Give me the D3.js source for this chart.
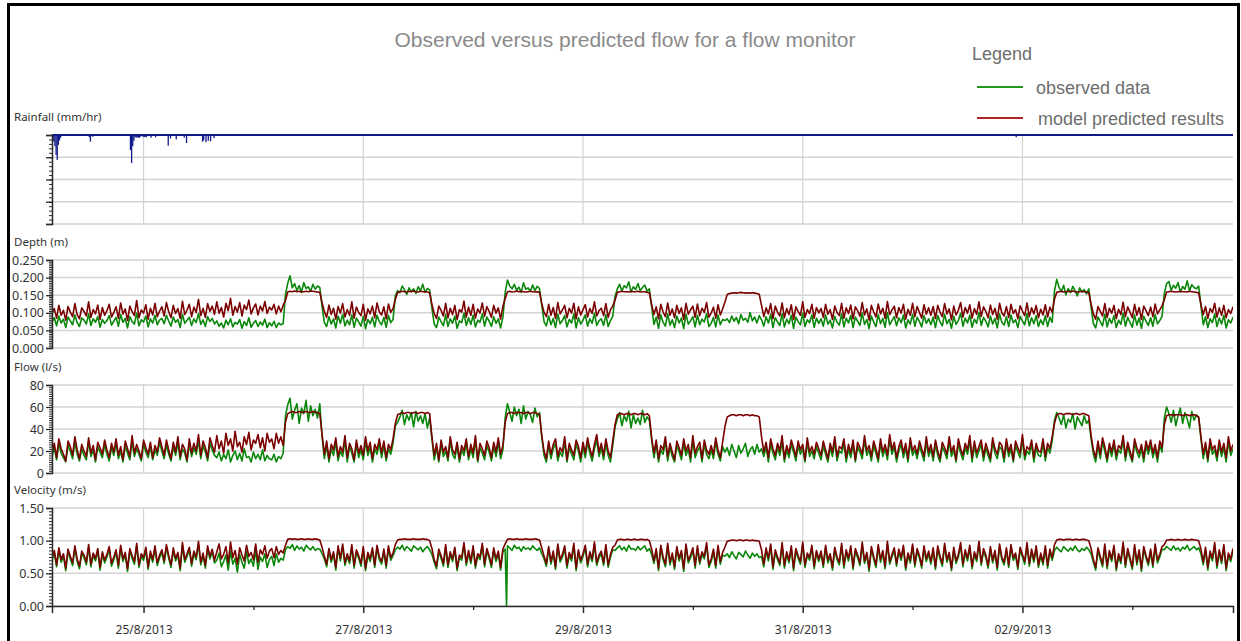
<!DOCTYPE html>
<html><head><meta charset="utf-8">
<script src="https://cdn.jsdelivr.net/npm/d3@7"></script>
<style>
html,body{margin:0;padding:0;background:#fff;}
svg{display:block;}
</style></head>
<body>
<svg id="chart" width="1241" height="641"></svg>
<script>
// ---------- DATA ----------
const titleText = "Observed versus predicted flow for a flow monitor";
const legendTitle = "Legend";
const seriesNames = ["observed data", "model predicted results"];
const panelLabels = ["Rainfall (mm/hr)", "Depth (m)", "Flow (l/s)", "Velocity (m/s)"];
const xTickLabels = ["25/8/2013", "27/8/2013", "29/8/2013", "31/8/2013", "02/9/2013"];
const xTickDates = [[2013,7,25],[2013,7,27],[2013,7,29],[2013,7,31],[2013,8,2]];
// 30-minute series starting 24/8/2013 04:00, ending 3/9/2013 22:00 (one row per day)
const seriesStart = [2013, 7, 24, 4];
const seriesEnd = [2013, 8, 3, 22];
const stepHours = 0.5;

// rainfall (15-min bins), hours after series start
const rainHours = [0,0.25,0.5,0.75,1,1.25,1.5,1.75,8,8.25,8.75,17,17.25,17.5,17.75,18,18.25,18.5,18.75,19,19.25,19.75,20,20.25,20.5,21.5,22.5,25.25,25.75,27,28.75,29.25,32.75,33,33.5,34,34.5,35.25,210.5];
const rainValues = [1.0,1.5,2.5,4.5,5.6,2.2,1.2,0.6,0.5,1.5,0.4,3.4,6.3,2.5,1.3,0.5,0.6,0.5,0.6,0.6,0.3,0.4,0.5,0.4,0.5,0.6,0.5,2.4,0.8,1.0,0.6,1.8,1.5,1.2,1.6,1.3,1.4,0.7,0.5];

const depthObserved = [
.074,.086,.063,.091,.071,.082,.058,.088,.077,.066,.094,.072,.061,.085,.079,.068,.097,.064,.083,.073,.089,.059,.081,.070,
.078,.092,.065,.076,.087,.062,.095,.073,.084,.057,.089,.075,.068,.099,.063,.080,.074,.091,.060,.083,.071,.093,.066,.079,
.084,.069,.093,.076,.062,.088,.073,.081,.058,.096,.070,.079,.087,.064,.083,.072,.098,.067,.080,.061,.089,.075,.084,.068,
.077,.062,.071,.057,.079,.066,.083,.060,.073,.068,.081,.056,.075,.064,.086,.059,.070,.078,.061,.074,.065,.082,.058,.072,
.063,.076,.058,.071,.066,.069,.152,.184,.205,.171,.183,.163,.177,.158,.186,.169,.174,.161,.181,.167,.176,.172,.118,
.072,.061,.089,.068,.083,.057,.091,.070,.096,.063,.079,.066,.094,.059,.085,.074,.062,.090,.055,.081,.069,.087,.060,.093,.075,
.066,.087,.059,.093,.072,.081,.148,.163,.157,.176,.166,.152,.171,.160,.168,.155,.174,.162,.181,.158,.169,.165,.113,
.068,.058,.088,.075,.063,.095,.061,.083,.070,.091,.056,.077,.072,.099,.064,.086,.067,.093,.060,.079,.073,.097,.062,.088,.076,
.061,.089,.070,.083,.057,.087,.158,.193,.176,.168,.181,.164,.173,.158,.185,.167,.171,.161,.179,.163,.175,.169,.121,
.074,.063,.091,.066,.084,.058,.096,.069,.078,.092,.060,.081,.071,.097,.057,.086,.068,.079,.094,.062,.083,.070,.099,.064,.077,
.083,.064,.095,.061,.078,.090,.147,.168,.181,.162,.177,.171,.188,.159,.174,.166,.183,.163,.172,.179,.161,.168,.119,
.067,.088,.056,.094,.073,.062,.097,.065,.080,.058,.091,.071,.085,.055,.096,.068,.077,.089,.060,.093,.066,.082,.074,.098,.061,
.070,.087,.060,.094,.066,.081,.078,.083,.072,.091,.076,.087,.069,.095,.079,.084,.073,.101,.077,.088,.071,.092,.080,
.062,.089,.071,.096,.058,.086,.074,.064,.097,.060,.082,.069,.093,.056,.088,.075,.066,.099,.061,.080,.072,.094,.059,.085,.070,
.083,.062,.094,.068,.079,.057,.090,.073,.065,.097,.060,.085,.071,.093,.058,.088,.076,.064,.099,.067,.081,.055,.091,.074,
.061,.095,.069,.084,.059,.101,.066,.078,.089,.063,.086,.072,.094,.057,.080,.068,.096,.062,.087,.075,.060,.092,.070,.083,
.066,.088,.058,.092,.074,.063,.096,.069,.081,.056,.090,.067,.078,.099,.062,.085,.071,.093,.059,.082,.070,.101,.064,.087,
.076,.060,.091,.068,.084,.057,.097,.073,.065,.089,.061,.094,.072,.080,.058,.090,.077,.066,.098,.063,.086,.069,.092,.061,
.080,.066,.092,.061,.087,.073,.162,.195,.172,.160,.178,.151,.169,.157,.175,.163,.148,.171,.159,.166,.154,.168,.117,
.069,.057,.088,.075,.063,.096,.060,.084,.070,.092,.058,.079,.067,.099,.062,.087,.073,.059,.094,.065,.085,.056,.090,.076,.064,
.086,.062,.095,.069,.078,.090,.155,.183,.189,.164,.178,.170,.186,.159,.175,.167,.191,.162,.180,.172,.168,.176,.121,
.066,.089,.058,.083,.072,.097,.061,.085,.068,.093,.057,.080,.071,.088];
const depthPredicted = [
.098,.112,.085,.121,.093,.107,.079,.118,.102,.089,.126,.095,.083,.114,.104,.091,.131,.087,.109,.097,.122,.081,.115,.093,
.106,.124,.088,.101,.117,.084,.128,.096,.111,.078,.119,.103,.092,.135,.086,.108,.099,.123,.082,.113,.094,.127,.089,.105,
.117,.091,.129,.103,.086,.121,.098,.112,.084,.133,.095,.108,.124,.089,.116,.101,.138,.092,.113,.087,.126,.104,.119,.096,
.131,.099,.115,.088,.127,.106,.141,.093,.118,.102,.129,.091,.122,.109,.136,.097,.114,.125,.094,.119,.105,.132,.098,.116,
.108,.124,.097,.119,.103,.121,.135,.159,.161,.160,.162,.160,.161,.159,.160,.161,.160,.162,.161,.160,.159,.158,.128,
.104,.087,.122,.095,.113,.082,.118,.099,.126,.088,.109,.093,.131,.085,.116,.101,.092,.124,.079,.111,.097,.119,.086,.128,.103,
.094,.117,.083,.125,.101,.112,.138,.158,.160,.161,.160,.159,.161,.160,.162,.160,.159,.161,.160,.160,.159,.157,.124,
.098,.084,.119,.107,.091,.127,.086,.113,.095,.121,.081,.109,.102,.133,.088,.116,.093,.124,.085,.111,.099,.128,.090,.118,.104,
.087,.121,.099,.114,.082,.118,.141,.160,.161,.159,.160,.162,.160,.161,.160,.159,.160,.161,.160,.159,.160,.158,.126,
.101,.089,.124,.093,.115,.084,.129,.097,.108,.121,.086,.113,.099,.127,.083,.117,.094,.109,.123,.088,.112,.098,.131,.091,.106,
.113,.092,.126,.087,.109,.119,.136,.158,.160,.161,.160,.160,.159,.161,.160,.160,.161,.159,.160,.160,.158,.157,.122,
.095,.117,.083,.124,.102,.089,.128,.093,.111,.086,.121,.098,.114,.081,.127,.096,.108,.119,.087,.125,.092,.113,.101,.129,.088,
.099,.116,.085,.123,.094,.111,.130,.152,.155,.156,.157,.156,.157,.158,.157,.156,.157,.156,.157,.156,.155,.153,.121,
.089,.114,.097,.126,.083,.119,.102,.091,.128,.086,.112,.095,.123,.081,.117,.104,.093,.131,.087,.109,.098,.124,.085,.115,.100,
.112,.087,.124,.096,.109,.081,.119,.101,.092,.127,.085,.114,.098,.122,.083,.117,.106,.090,.129,.094,.111,.079,.121,.103,
.088,.125,.097,.113,.084,.132,.095,.108,.119,.086,.115,.099,.124,.082,.110,.093,.127,.089,.118,.101,.085,.123,.096,.114,
.093,.118,.084,.121,.102,.089,.126,.097,.111,.080,.119,.094,.107,.129,.088,.115,.099,.123,.085,.112,.096,.131,.090,.117,
.104,.086,.122,.095,.113,.082,.127,.100,.091,.118,.087,.124,.098,.109,.083,.120,.105,.092,.128,.089,.114,.097,.121,.086,
.110,.094,.123,.088,.116,.101,.139,.158,.160,.161,.159,.160,.161,.160,.162,.160,.159,.160,.161,.160,.159,.157,.125,
.097,.082,.118,.104,.091,.126,.087,.113,.099,.121,.084,.110,.095,.130,.089,.117,.102,.086,.124,.093,.115,.081,.119,.106,.092,
.116,.089,.125,.097,.108,.120,.137,.159,.160,.161,.160,.159,.160,.161,.160,.160,.159,.161,.160,.159,.158,.157,.123,
.095,.118,.084,.112,.101,.127,.088,.114,.093,.121,.086,.109,.098,.117];

const flowObserved = [
15,23,12,27,18,14,10,25,20,13,28,17,11,22,16,12,29,15,21,10,24,19,14,26,
17,11,23,16,27,13,20,10,25,18,12,29,15,22,17,11,26,19,14,24,12,21,16,28,
20,13,26,17,11,24,16,28,12,22,18,10,27,15,23,17,30,13,25,19,11,27,21,16,
14,19,11,17,13,21,10,16,20,12,18,11,22,14,15,10,19,13,17,12,21,11,16,13,
12,17,10,15,13,18,52,62,68,49,57,63,45,59,54,66,47,61,52,58,50,63,33,
13,25,10,22,16,28,11,20,15,30,10,24,18,10,26,14,21,12,29,16,23,10,22,17,27,
14,25,11,22,17,27,43,46,51,57,44,53,48,55,42,56,47,52,45,54,41,50,31,
12,23,10,26,15,20,11,29,17,13,24,10,21,16,27,12,22,14,30,10,23,18,12,25,19,
11,24,15,28,13,21,50,63,55,47,60,52,58,45,61,49,56,53,46,59,51,55,32,
16,10,25,13,22,27,11,19,15,29,10,23,17,12,26,20,10,24,14,28,18,11,22,30,15,
23,12,27,16,10,25,42,49,55,43,52,47,56,41,53,45,50,44,57,46,51,48,30,
14,26,10,21,17,29,11,23,15,10,25,19,12,27,16,22,10,30,14,20,24,10,26,17,13,
21,13,28,17,11,24,19,23,16,26,20,14,25,18,22,27,15,21,24,17,26,19,22,
15,24,10,27,18,12,23,16,29,10,21,14,26,19,11,25,17,22,10,28,15,20,13,24,18,
12,25,17,10,23,15,29,11,20,18,27,10,22,14,26,10,24,19,13,30,16,21,11,25,
18,10,27,15,22,12,31,17,24,10,20,26,14,23,10,28,16,21,13,25,18,11,29,15,
22,11,26,16,10,24,19,13,29,15,21,10,27,18,12,23,17,30,10,25,14,20,26,11,
23,16,10,28,18,13,24,21,10,27,15,22,10,25,19,14,31,12,20,17,26,10,23,16,
15,27,11,23,18,29,48,55,50,44,53,41,49,46,54,40,51,47,43,52,45,48,31,
17,10,25,13,28,20,10,23,15,26,12,21,18,30,11,24,16,10,27,19,14,22,10,25,17,
26,14,22,10,25,19,50,60,54,46,57,43,52,59,45,55,49,41,56,48,53,50,31,
13,24,10,27,17,21,11,26,15,23,10,29,16,22];
const flowPredicted = [
19,27,14,31,22,17,11,29,24,16,33,21,13,26,20,15,32,18,25,12,28,23,17,30,
21,14,27,19,31,16,24,12,29,22,15,34,18,26,20,13,30,23,17,28,14,25,19,32,
24,16,30,21,13,28,19,33,15,26,22,12,31,18,27,20,35,16,29,23,14,32,25,19,
34,22,29,18,36,25,31,20,38,24,28,19,33,26,37,21,30,27,35,23,32,20,36,28,
31,22,36,27,33,25,46,54,55,56,55,55,56,55,55,56,55,55,56,55,55,54,35,
17,29,13,26,21,32,15,24,19,34,14,27,22,12,30,18,25,16,33,20,28,13,26,21,31,
18,29,14,26,21,31,45,53,54,55,54,55,55,54,55,55,54,55,55,54,55,54,33,
16,27,12,30,19,24,14,33,21,17,28,13,25,20,31,15,26,18,34,12,27,22,16,29,23,
14,28,19,32,17,25,46,54,55,55,54,55,55,55,54,55,55,54,55,55,54,53,34,
20,13,29,17,26,31,15,23,19,33,12,27,21,16,30,24,14,28,18,32,22,15,26,35,19,
27,16,31,20,14,29,44,53,54,54,53,54,54,53,54,54,53,54,54,53,54,52,32,
18,30,13,25,21,33,15,27,19,12,29,23,16,31,20,26,14,34,18,24,28,13,30,21,17,
25,17,32,21,14,28,42,51,52,53,53,52,53,53,52,53,53,52,53,52,52,51,33,
19,28,14,31,22,16,27,20,34,13,25,18,30,23,15,29,21,26,12,32,19,24,17,28,22,
16,29,21,13,27,19,33,15,24,22,31,14,26,18,30,12,28,23,17,34,20,25,15,29,
22,13,31,19,26,16,35,21,28,14,24,30,18,27,13,32,20,25,17,29,22,15,33,19,
26,15,30,20,13,28,23,17,33,19,25,12,31,22,16,27,21,34,14,29,18,24,30,15,
27,20,13,32,22,17,28,25,14,31,19,26,12,29,23,18,35,16,24,21,30,14,27,20,
19,31,15,27,22,33,45,53,54,54,53,54,54,54,53,54,54,53,54,54,53,52,34,
21,14,29,17,32,24,13,27,19,30,16,25,22,34,15,28,20,12,31,23,18,26,14,29,21,
30,18,26,14,29,23,44,52,53,53,52,53,53,53,52,53,53,52,53,53,52,51,33,
17,28,13,31,21,25,15,30,19,27,14,33,20,26];

const velocityObserved = [
.70,.81,.60,.85,.67,.76,.54,.83,.72,.62,.88,.68,.57,.80,.74,.63,.90,.60,.77,.69,.84,.55,.79,.66,
.75,.87,.61,.71,.82,.58,.89,.68,.78,.53,.84,.73,.64,.92,.59,.76,.70,.86,.56,.80,.67,.88,.62,.74,
.82,.65,.90,.73,.59,.85,.69,.78,.54,.93,.67,.76,.86,.61,.80,.71,.95,.63,.77,.58,.88,.72,.83,.66,
.70,.81,.60,.68,.78,.55,.84,.64,.73,.52,.79,.67,.58,.83,.65,.72,.61,.86,.56,.75,.68,.80,.59,.71,
.76,.62,.80,.67,.73,.70,.86,.91,.88,.94,.85,.92,.87,.90,.84,.93,.89,.86,.91,.85,.88,.87,.80,
.72,.60,.84,.67,.79,.55,.88,.69,.91,.62,.76,.65,.90,.58,.82,.73,.61,.87,.54,.78,.68,.85,.59,.89,.71,
.64,.83,.58,.88,.70,.77,.86,.90,.87,.93,.85,.91,.88,.84,.92,.89,.86,.90,.83,.88,.91,.86,.79,
.67,.57,.83,.73,.61,.90,.59,.79,.68,.86,.54,.74,.70,.93,.62,.81,.65,.88,.58,.76,.71,.92,.60,.84,.73,
.59,.85,.68,.80,.55,.83,.87,.92,.89,.85,.93,.88,.90,.84,.91,.87,.89,.86,.92,.88,.85,.89,.80,
.72,.61,.87,.64,.80,.56,.91,.67,.75,.88,.58,.78,.69,.92,.54,.82,.66,.76,.89,.60,.79,.68,.94,.62,.74,
.80,.62,.90,.59,.75,.86,.85,.89,.92,.86,.90,.84,.93,.87,.88,.85,.91,.86,.89,.92,.84,.88,.79,
.65,.84,.54,.89,.71,.60,.92,.63,.77,.56,.87,.69,.81,.53,.91,.66,.74,.85,.58,.88,.64,.79,.72,.93,.59,
.68,.83,.58,.89,.64,.78,.76,.80,.74,.83,.77,.72,.82,.79,.75,.84,.78,.73,.81,.76,.80,.74,.76,
.60,.85,.69,.91,.56,.82,.71,.62,.93,.58,.79,.66,.88,.54,.84,.73,.64,.94,.59,.77,.70,.89,.57,.81,.68,
.80,.59,.89,.66,.76,.55,.86,.71,.63,.92,.58,.82,.69,.88,.56,.84,.74,.62,.94,.65,.78,.53,.87,.72,
.59,.90,.67,.81,.57,.95,.64,.75,.85,.61,.83,.70,.89,.55,.77,.66,.91,.60,.84,.73,.58,.88,.68,.80,
.64,.85,.56,.88,.72,.61,.92,.67,.78,.54,.86,.65,.75,.93,.60,.82,.69,.89,.57,.79,.68,.95,.62,.84,
.74,.58,.87,.66,.81,.55,.91,.71,.63,.85,.59,.90,.70,.77,.56,.86,.75,.64,.93,.61,.83,.67,.88,.59,
.77,.63,.88,.58,.83,.70,.85,.90,.86,.83,.91,.87,.84,.89,.85,.92,.86,.83,.88,.85,.90,.86,.80,
.67,.55,.85,.72,.60,.91,.57,.81,.68,.89,.54,.76,.65,.94,.59,.84,.70,.56,.90,.63,.82,.53,.87,.73,.62,
.83,.59,.91,.66,.75,.87,.86,.91,.88,.85,.92,.86,.89,.84,.90,.87,.93,.85,.88,.91,.86,.89,.80,
.63,.86,.55,.80,.69,.93,.58,.82,.65,.90,.54,.77,.68,.84];
// brief sensor dropout in observed velocity (hours after series start)
const velocityDropoutHours = [99.3];
const velocityDropoutValues = [0];
const velocityPredicted = [
.74,.85,.63,.89,.71,.80,.58,.87,.76,.66,.92,.72,.61,.84,.78,.67,.94,.64,.81,.73,.88,.59,.83,.70,
.79,.91,.65,.75,.86,.62,.93,.72,.82,.57,.88,.77,.68,.96,.63,.80,.74,.90,.60,.84,.71,.92,.66,.78,
.86,.69,.94,.77,.63,.89,.73,.82,.58,.97,.71,.80,.90,.65,.84,.75,.99,.67,.81,.62,.92,.76,.87,.70,
.83,.95,.72,.79,.91,.66,.98,.74,.85,.64,.89,.78,.69,.93,.76,.82,.71,.95,.67,.86,.79,.92,.73,.84,
.88,.74,.91,.79,.85,.81,.93,1.02,1.03,1.02,1.03,1.02,1.02,1.03,1.02,1.02,1.03,1.02,1.02,1.03,1.02,1.01,.90,
.76,.64,.88,.71,.83,.59,.92,.73,.95,.66,.80,.69,.94,.62,.86,.77,.65,.91,.58,.82,.72,.89,.63,.93,.75,
.68,.87,.62,.92,.74,.81,.94,1.01,1.02,1.02,1.03,1.02,1.02,1.02,1.03,1.02,1.02,1.02,1.03,1.02,1.02,1.00,.88,
.71,.61,.87,.77,.65,.94,.63,.83,.72,.90,.58,.78,.74,.97,.66,.85,.69,.92,.62,.80,.75,.96,.64,.88,.77,
.63,.89,.72,.84,.59,.87,.95,1.02,1.03,1.02,1.02,1.03,1.02,1.02,1.02,1.03,1.02,1.02,1.02,1.03,1.02,1.01,.89,
.76,.65,.91,.68,.84,.60,.95,.71,.79,.92,.62,.82,.73,.96,.58,.86,.70,.80,.93,.64,.83,.72,.98,.66,.78,
.84,.66,.94,.63,.79,.90,.93,1.01,1.02,1.02,1.01,1.02,1.02,1.01,1.02,1.02,1.01,1.02,1.02,1.01,1.02,1.00,.87,
.69,.88,.58,.93,.75,.64,.96,.67,.81,.60,.91,.73,.85,.57,.95,.70,.78,.89,.62,.92,.68,.83,.76,.97,.63,
.72,.87,.62,.93,.68,.82,.90,.99,1.00,1.01,1.01,1.00,1.01,1.01,1.00,1.01,1.01,1.00,1.01,1.00,1.00,.99,.86,
.64,.89,.73,.95,.60,.86,.75,.66,.97,.62,.83,.70,.92,.58,.88,.77,.68,.98,.63,.81,.74,.93,.61,.85,.72,
.84,.63,.93,.70,.80,.59,.90,.75,.67,.96,.62,.86,.73,.92,.60,.88,.78,.66,.98,.69,.82,.57,.91,.76,
.63,.94,.71,.85,.61,.99,.68,.79,.89,.65,.87,.74,.93,.59,.81,.70,.95,.64,.88,.77,.62,.92,.72,.84,
.68,.89,.60,.92,.76,.65,.96,.71,.82,.58,.90,.69,.79,.97,.64,.86,.73,.93,.61,.83,.72,.99,.66,.88,
.78,.62,.91,.70,.85,.59,.95,.75,.67,.89,.63,.94,.74,.81,.60,.90,.79,.68,.97,.65,.87,.71,.92,.63,
.81,.67,.92,.62,.87,.74,.94,1.01,1.02,1.02,1.01,1.02,1.02,1.02,1.01,1.02,1.02,1.01,1.02,1.02,1.01,1.00,.88,
.71,.59,.89,.76,.64,.95,.61,.85,.72,.93,.58,.80,.69,.98,.63,.88,.74,.60,.94,.67,.86,.57,.91,.77,.66,
.87,.63,.95,.70,.79,.91,.94,1.01,1.01,1.02,1.01,1.01,1.02,1.01,1.01,1.02,1.01,1.01,1.02,1.01,1.01,1.00,.87,
.67,.90,.59,.84,.73,.97,.62,.86,.69,.94,.58,.81,.72,.88];

const depthTicks = [0, 0.05, 0.10, 0.15, 0.20, 0.25];
const flowTicks = [0, 20, 40, 60, 80];
const velocityTicks = [0, 0.5, 1.0, 1.5];
const rainTicks = [0, 5, 10, 15, 20];

// ---------- DRAW ----------
const svg = d3.select("#chart");
const HOUR = 3600e3;
const t0 = new Date(...seriesStart);
const t1 = new Date(...seriesEnd);
const L = 52, R = 1233;
const x = d3.scaleTime().domain([t0, t1]).range([L, R]);
const hoursToDate = h => new Date(+t0 + h * HOUR);

const GREEN = "#0a870a", RED = "#7a0000", GRID = "#d3d3d3", AXIS = "#2a2a2a", NAVY = "#101a8a";
const labelFont = "'Noto Sans', 'Open Sans', sans-serif";
const sansFont = "'Liberation Sans', Arial, sans-serif";

// frame
svg.append("rect").attr("x", 8.5).attr("y", 4.5).attr("width", 1230).attr("height", 660)
  .attr("fill", "none").attr("stroke", "#000").attr("stroke-width", 3);

// title
svg.append("text").attr("x", 625).attr("y", 47).attr("text-anchor", "middle")
  .attr("font-family", sansFont).attr("font-size", 21).attr("fill", "#8a8a8a").text(titleText);

// legend
svg.append("text").attr("x", 972).attr("y", 60).attr("font-family", sansFont)
  .attr("font-size", 18).attr("fill", "#6e6e6e").text(legendTitle);
const legColors = ["#1f9a1f", "#b22525"];
const legY = [87, 118];
seriesNames.forEach((n, i) => {
  svg.append("line").attr("x1", 977).attr("x2", 1023).attr("y1", legY[i]).attr("y2", legY[i])
    .attr("stroke", legColors[i]).attr("stroke-width", 2);
  svg.append("text").attr("x", 1036 + i * 2).attr("y", legY[i] + 7).attr("font-family", sansFont)
    .attr("font-size", 18).attr("fill", "#6e6e6e").text(n);
});

const xMajor = xTickDates.map(d => new Date(d[0], d[1], d[2]));
const xMinor = d3.timeDay.range(d3.timeDay.ceil(t0), t1).filter(d => !xMajor.some(m => +m === +d));

// panels
const panels = [
  {label: panelLabels[0], top: 135, bottom: 224, domain: [0, 20], ticks: rainTicks, minor: 1, fmt: null, inverted: true},
  {label: panelLabels[1], top: 260, bottom: 348, domain: [0, 0.25], ticks: depthTicks, minor: 0.005, fmt: d3.format(".3f"),
    obs: depthObserved, pred: depthPredicted},
  {label: panelLabels[2], top: 385, bottom: 473, domain: [0, 80], ticks: flowTicks, minor: 2, fmt: d3.format("d"),
    obs: flowObserved, pred: flowPredicted},
  {label: panelLabels[3], top: 508, bottom: 606, domain: [0, 1.5], ticks: velocityTicks, minor: 0.05, fmt: d3.format(".2f"),
    obs: velocityObserved, pred: velocityPredicted, drop: true}
];

panels.forEach(p => {
  const y = d3.scaleLinear().domain(p.domain)
    .range(p.inverted ? [p.top, p.bottom] : [p.bottom, p.top]);
  const g = svg.append("g");
  g.append("text").attr("x", 14).attr("y", p.top - 14).attr("font-family", labelFont)
    .attr("font-size", 11.5).attr("fill", "#333").text(p.label);
  g.selectAll(".hg").data(p.ticks).join("line")
    .attr("x1", L).attr("x2", R).attr("y1", d => y(d)).attr("y2", d => y(d))
    .attr("stroke", GRID).attr("stroke-width", 1.5);
  g.selectAll(".vg").data(xMajor).join("line")
    .attr("x1", d => x(d)).attr("x2", d => x(d)).attr("y1", p.top).attr("y2", p.bottom)
    .attr("stroke", GRID).attr("stroke-width", 1.2);

  const clipId = "clip" + p.top;
  svg.append("clipPath").attr("id", clipId).append("rect")
    .attr("x", L).attr("y", p.top - 2).attr("width", R - L).attr("height", p.bottom - p.top + 2);
  const dg = g.append("g").attr("clip-path", `url(#${clipId})`);
  if (p.inverted) {
    const n = Math.min(rainHours.length, rainValues.length);
    const bars = d3.range(n).map(i => ({t: hoursToDate(rainHours[i]), t2: hoursToDate(rainHours[i] + 0.25), v: rainValues[i]}));
    dg.selectAll("rect.rain").data(bars).join("rect")
      .attr("x", d => x(d.t)).attr("width", d => Math.max(1.3, x(d.t2) - x(d.t)))
      .attr("y", y(0)).attr("height", d => y(d.v) - y(0)).attr("fill", NAVY);
    g.append("line").attr("x1", L).attr("x2", R).attr("y1", y(0)).attr("y2", y(0))
      .attr("stroke", NAVY).attr("stroke-width", 2);
  } else {
    const line = d3.line().x(d => x(d[0])).y(d => y(d[1]));
    let obs = p.obs.map((v, i) => [hoursToDate(i * stepHours), v]);
    if (p.drop) {
      velocityDropoutHours.forEach((h, k) => obs.push([hoursToDate(h), velocityDropoutValues[k]]));
      obs.sort((a, b) => a[0] - b[0]);
    }
    const pred = p.pred.map((v, i) => [hoursToDate(i * stepHours), v]);
    dg.append("path").datum(obs).attr("d", line).attr("fill", "none")
      .attr("stroke", GREEN).attr("stroke-width", 1.6).attr("stroke-linejoin", "round");
    dg.append("path").datum(pred).attr("d", line).attr("fill", "none")
      .attr("stroke", RED).attr("stroke-width", 1.6).attr("stroke-linejoin", "round");
  }

  const minorVals = d3.range(p.domain[0], p.domain[1] + p.minor / 2, p.minor);
  const minorAxis = d3.axisLeft(y).tickValues(minorVals).tickSize(3).tickFormat("");
  const ma = g.append("g").attr("transform", `translate(${L},0)`).call(minorAxis);
  ma.select(".domain").remove();
  ma.selectAll("line").attr("stroke", AXIS);
  const majorAxis = d3.axisLeft(y).tickValues(p.ticks).tickSize(6).tickPadding(2)
    .tickFormat(p.fmt ? p.fmt : "");
  const aa = g.append("g").attr("transform", `translate(${L},0)`).call(majorAxis);
  aa.select(".domain").attr("stroke", AXIS).attr("stroke-width", 1.5);
  aa.selectAll("line").attr("stroke", AXIS).attr("stroke-width", 1.3);
  aa.selectAll("text").attr("font-family", labelFont).attr("font-size", 12.5).attr("fill", "#333");
});

// bottom time axis
const yBottom = 606;
const xMinorAxis = d3.axisBottom(x).tickValues(xMinor).tickSize(4).tickFormat("");
const xm = svg.append("g").attr("transform", `translate(0,${yBottom})`).call(xMinorAxis);
xm.select(".domain").remove();
xm.selectAll("line").attr("stroke", AXIS).attr("stroke-width", 1.3);
const xAxis = d3.axisBottom(x).tickValues(xMajor).tickSize(7).tickPadding(12)
  .tickFormat((d, i) => xTickLabels[i]);
const xa = svg.append("g").attr("transform", `translate(0,${yBottom})`).call(xAxis);
xa.select(".domain").attr("stroke", AXIS).attr("stroke-width", 1.5);
xa.selectAll("line").attr("stroke", AXIS).attr("stroke-width", 1.5);
xa.selectAll("text").attr("font-family", labelFont).attr("font-size", 12).attr("fill", "#333");
</script>
</body></html>
